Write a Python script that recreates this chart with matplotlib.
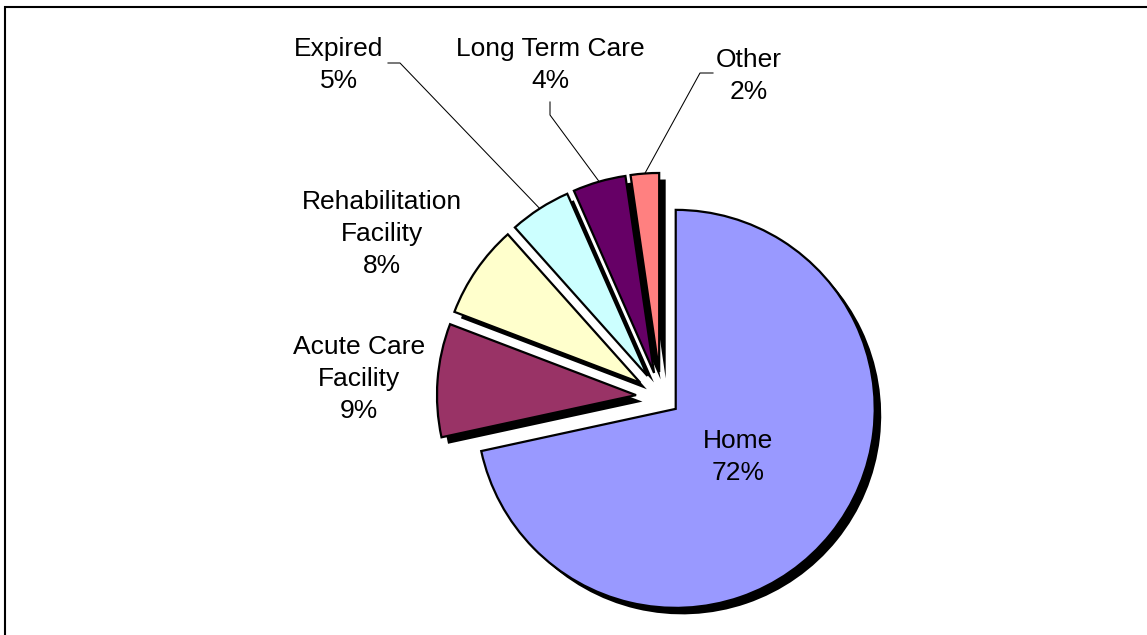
import matplotlib
matplotlib.use("Agg")
import matplotlib.pyplot as plt
from matplotlib.patches import Rectangle
import numpy as np

# ---- data ----
categories = ["Home", "Acute Care\nFacility", "Rehabilitation\nFacility",
              "Expired", "Long Term Care", "Other"]
values = [71.6, 9.2, 7.6, 5.0, 4.3, 2.3]
colors = ["#9999FF", "#993366", "#FFFFCC", "#CCFFFF", "#660066", "#FF8080"]
explode = [0.095, 0.126, 0.126, 0.126, 0.126, 0.126]

# ---- layout (pixel based) ----
W, H = 1147, 635
CX, CY = 661, 397        # pie centre in pixels
R = 199.0                # radius in pixels


def px(x, y):
    """pixel coords -> data coords (radius = 1)"""
    return (x - CX) / R, (CY - y) / R


plt.rcParams['font.family'] = ['Liberation Sans', 'DejaVu Sans']
fig = plt.figure(figsize=(W / 100, H / 100), dpi=100)
ax = fig.add_axes([0, 0, 1, 1])

# shadow
sh = 6.5 / R
ax.pie(values, explode=explode, colors=["black"] * len(values), startangle=90,
       counterclock=False, radius=1.0, center=(sh, -sh),
       wedgeprops=dict(edgecolor="black", linewidth=0), frame=True)
# main pie
wedges, _ = ax.pie(values, explode=explode, colors=colors, startangle=90,
                   counterclock=False, radius=1.0, center=(0, 0),
                   wedgeprops=dict(edgecolor="black", linewidth=1.6), frame=True)
ax.set_xlim(-CX / R, (W - CX) / R)
ax.set_ylim((CY - H) / R, CY / R)
ax.set_axis_off()
ax.set_aspect("equal")

total = sum(values)
labels = [f"{c}\n{v / total * 100:.0f}%" for c, v in zip(categories, values)]

# label positions (pixel centres of text blocks)
label_pos = [(738, 457), (359, 379), (382, 234), (339, 65), (550, 65), (749, 76)]
for lab, (x, y) in zip(labels, label_pos):
    ax.text(*px(x, y), lab, ha="center", va="center", fontsize=19,
            linespacing=1.42, color="black")

# leader lines for the small slices: (start, bend) in pixels, end at arc midpoint
leaders = {3: [(388, 63), (400, 63)], 4: [(550, 102), (550, 115)],
           5: [(713, 73), (700, 73)]}
for i, pts in leaders.items():
    w = wedges[i]
    tm = np.deg2rad((w.theta1 + w.theta2) / 2)
    ex = w.center[0] + w.r * np.cos(tm)
    ey = w.center[1] + w.r * np.sin(tm)
    xs = [px(*p)[0] for p in pts] + [ex]
    ys = [px(*p)[1] for p in pts] + [ey]
    ax.plot(xs, ys, color="black", linewidth=0.75)

# frame (chart area border, extends beyond right/bottom)
x0, y0 = px(5, 7)
x1, y1 = px(1170, 660)
ax.add_patch(Rectangle((x0, y1), x1 - x0, y0 - y1, fill=False,
                       edgecolor="black", linewidth=1.5, clip_on=False))

fig.savefig("out.png", dpi=100)
